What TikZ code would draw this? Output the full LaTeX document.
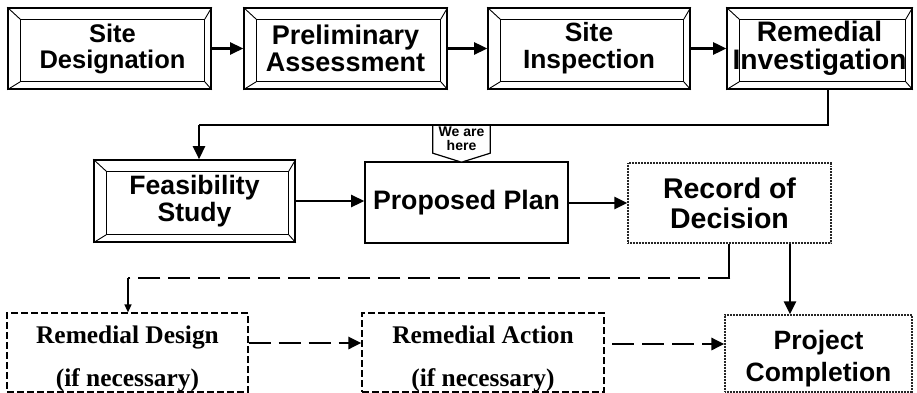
\documentclass[tikz,border=0pt]{standalone}
\usepackage{fontspec}
\setmainfont{Liberation Sans}
\newfontfamily\serifb{Liberation Serif}
\usetikzlibrary{arrows.meta,calc}
\newcommand\bevelbox[1]{%
  \draw[line width=1.2pt] ($(#1.north west)+(13,12)$) rectangle ($(#1.south east)+(-7,-8)$);
  \draw[line width=0.9pt] (#1.north west) -- ++(13,12) (#1.north east) -- ++(-7,12)
    (#1.south west) -- ++(13,-8) (#1.south east) -- ++(-7,-8);}
\newcommand\fsz[2]{\bfseries\fontsize{#1}{#2}\selectfont}
\begin{document}
\begin{tikzpicture}[x=1pt,y=-1pt,
  sansbox/.style={inner sep=0pt, align=center},
  bevel/.style={sansbox, draw, line width=1.6pt},
  plainbox/.style={sansbox, draw, line width=1.6pt},
  dotbox/.style={sansbox, draw=black!85, line width=1.2pt, dash pattern=on 1pt off 0.5pt},
  dashbox/.style={inner sep=0pt, align=center, draw, line width=1.2pt, dash pattern=on 7pt off 3pt,
    font=\serifb\bfseries\fontsize{25.4}{43}\selectfont},
  arr/.style={line width=2.6pt, -{Triangle[length=13pt,width=12pt]}},
  darr/.style={line width=2.8pt, dash pattern=on 22pt off 8pt, -{Triangle[length=13pt,width=12pt]}},
  conn/.style={line width=2.8pt},
  dconn/.style={line width=2.8pt, dash pattern=on 22pt off 8pt},
  thinarr/.style={line width=1.4pt, -{Triangle[length=8pt,width=7pt]}},
  herebox/.style={inner sep=0pt, minimum width=57pt, minimum height=28pt, align=center,
    font=\bfseries\fontsize{14}{14}\selectfont},
]
\useasboundingbox (0,0) rectangle (917,393);

% row 1
\node[bevel, minimum width=203pt, minimum height=81pt, font=\fsz{25.5}{26}] (sd) at (109.5,48.5) {\hspace*{6pt}Site\\\hspace*{6pt}Designation};
\node[bevel, minimum width=203pt, minimum height=81pt, font=\fsz{27}{27}] (pa) at (345.5,48.5) {Preliminary\\Assessment};
\node[bevel, minimum width=202pt, minimum height=81pt, font=\fsz{26.4}{27}] (si) at (589,48.5) {Site\\Inspection};
\node[bevel, minimum width=185pt, minimum height=81pt, font=\fsz{28.2}{28}] (ri) at (819.5,48.5) {Remedial\\Investigation};
\bevelbox{sd}\bevelbox{pa}\bevelbox{si}\bevelbox{ri}

% row 2
\node[bevel, minimum width=201pt, minimum height=82pt, font=\fsz{26.6}{27}] (fs) at (194.5,201) {Feasibility\\Study};
\bevelbox{fs}
\node[plainbox, minimum width=203pt, minimum height=81pt, font=\fsz{26.7}{27}] (pp) at (466.5,202.5) {\raisebox{4pt}{Proposed Plan}};
\node[dotbox, minimum width=203pt, minimum height=80pt, font=\fsz{28.5}{30}] (rod) at (729.5,203) {Record of\\Decision};

% row 3
\node[dashbox, minimum width=241pt, minimum height=79pt] (rd) at (127.5,352.5) {\rule{0pt}{30pt}Remedial Design\\(if necessary)};
\node[dashbox, minimum width=242pt, minimum height=79pt] (ra) at (483,352.5) {\rule{0pt}{30pt}Remedial Action\\(if necessary)};
\node[dotbox, minimum width=187pt, minimum height=77pt, font=\fsz{26.5}{32}] (pc) at (818.5,353.5) {\rule{0pt}{29pt}Project\\Completion};

% we are here
\node[herebox] (here) at (461.5,139) {We are\\here};
\draw[line width=1.2pt, fill=white] (here.north west) -- (here.south west) -- ($(here.south)+(0,9)$) -- (here.south east) -- (here.north east);
\node[herebox] at (here) {We are\\here};

% connectors row 1
\draw[arr] (sd.east) -- (pa.west);
\draw[arr] (pa.east) -- (si.west);
\draw[arr] (si.east) -- (ri.west);

% RI -> FS
\coordinate (r1) at (828,125);
\coordinate (r2) at (199,125);
\draw[conn] (ri.south -| r1) -- (r1) -- (r2);
\draw[arr] (r2) -- (fs.north -| r2);

% row 2
\draw[arr] (fs.east) -- (fs.east -| pp.west);
\draw[arr] (pp.east |- rod.west) -- (rod.west);

% ROD -> RD (dashed)
\coordinate (d1) at (729,278);
\coordinate (d2) at (128,278);
\draw[conn] (rod.south -| d1) -- ([yshift=1.4pt]d1);
\draw[dconn] ([xshift=1.4pt]d1) -- (d2);
\draw[thinarr] (d2) -- (rd.north -| d2);

% ROD -> PC
\coordinate (c1) at (790,250);
\draw[arr] (rod.south -| c1) -- (pc.north -| c1);

% row 3 dashed arrows
\coordinate (e1) at (0,343);
\draw[darr] (rd.east |- e1) -- (ra.west |- e1);
\coordinate (e2) at (612,344);
\draw[darr] (e2) -- (pc.west |- e2);
\end{tikzpicture}
\end{document}
